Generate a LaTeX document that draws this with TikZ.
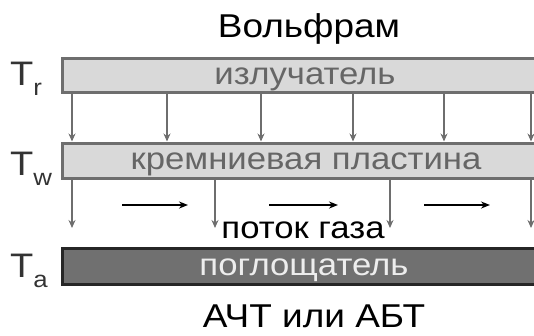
\documentclass[tikz,border=0pt]{standalone}
\usepackage{fontspec}
\setmainfont{Liberation Sans}[FakeStretch=1.12]
\usetikzlibrary{arrows.meta,calc}
\definecolor{boxgray}{HTML}{D9D9D9}
\definecolor{edgegray}{HTML}{6E6E6E}
\definecolor{txtgray}{HTML}{666666}
\definecolor{darkfill}{HTML}{707070}
\begin{document}
\begin{tikzpicture}[x=1pt,y=-1pt,
  layer/.style={draw=edgegray,line width=3pt,fill=boxgray,minimum width=488pt,inner sep=0pt},
  absbox/.style={draw=black!85,line width=3pt,fill=darkfill,minimum width=488pt,minimum height=36pt,inner sep=0pt},
  boxtxt/.style={anchor=base,inner sep=0pt,font=\fontsize{31}{31}\selectfont},
  lbl/.style={anchor=base,inner sep=0pt,font=\fontsize{33}{33}\selectfont},
  tlbl/.style={anchor=base west,inner sep=0pt,text=black!80,font=\fontsize{34}{34}\selectfont},
  vflow/.style={draw=edgegray,line width=1.5pt,-{Stealth[length=8pt,width=7pt]}},
  hflow/.style={draw=black,line width=1.5pt,-{Stealth[length=9pt,width=7pt]}}]
\useasboundingbox (0,0) rectangle (534,335);
\node[lbl] (title) at (309,37) {Вольфрам};
\node[layer,minimum height=34pt] (emitter) at (306,75) {};
\node[layer,minimum height=35pt] (wafer) at (306,160.5) {};
\node[absbox] (absorber) at (306,266.5) {};
\node[boxtxt,text=txtgray] (emittxt) at (305,84) {излучатель};
\node[boxtxt,text=txtgray] (wafertxt) at (306,169) {кремниевая пластина};
\node[boxtxt,text=white!93!black] (abstxt) at (304,275) {поглощатель};
\node[lbl] (bottom) at (314,327) {АЧТ или АБТ};
\node[tlbl] (tr) at (10,85) {T\raisebox{-10pt}{\fontsize{23}{23}\selectfont r}};
\node[tlbl] (tw) at (10,175) {T\raisebox{-10pt}{\fontsize{23}{23}\selectfont w}};
\node[tlbl] (ta) at (10,277) {T\raisebox{-10pt}{\fontsize{23}{23}\selectfont a}};
\node[boxtxt] (gas) at (303,238) {поток газа};
\foreach \x in {72,167,261,353,444,531}
  \draw[vflow] (emitter.south -| \x,0) -- (wafer.north -| \x,0);
\foreach \x [count=\i] in {72,215,390,531}{
  \coordinate (e\i) at (\x,228);
  \draw[vflow] (wafer.south -| \x,0) -- (e\i);}
\coordinate (h1a) at (122,205); \coordinate (h1b) at (188,205);
\coordinate (h2a) at (269,205); \coordinate (h2b) at (338,205);
\coordinate (h3a) at (424,205); \coordinate (h3b) at (490,205);
\draw[hflow] (h1a) -- (h1b);
\draw[hflow] (h2a) -- (h2b);
\draw[hflow] (h3a) -- (h3b);
\end{tikzpicture}
\end{document}
